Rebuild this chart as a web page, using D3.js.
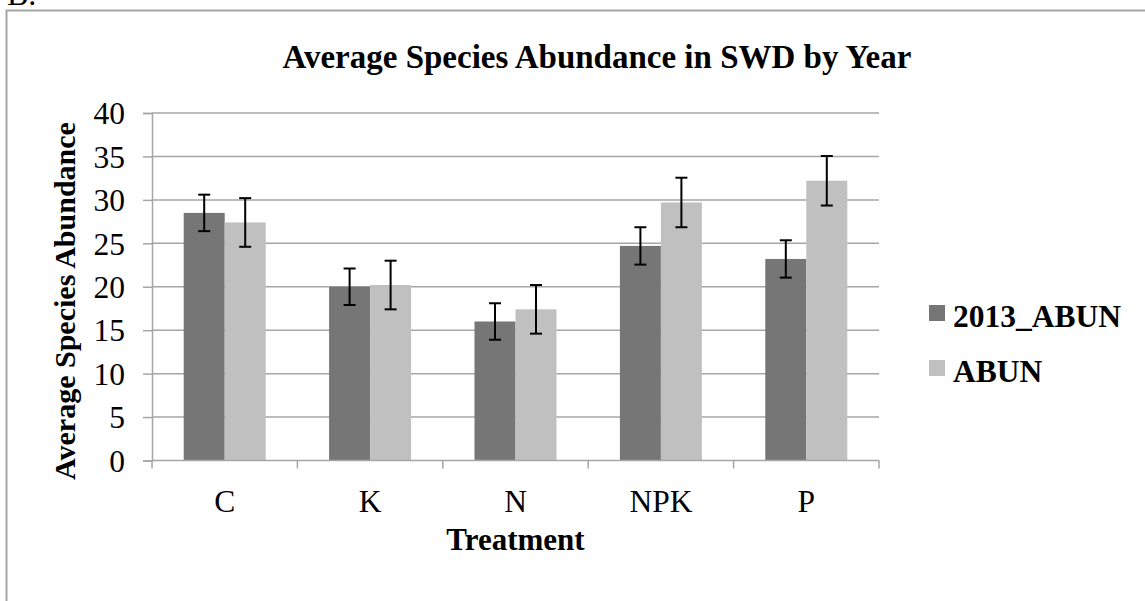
<!DOCTYPE html>
<html>
<head>
<meta charset="utf-8">
<script src="https://cdn.jsdelivr.net/npm/d3@7"></script>
<style>
  html, body { margin: 0; padding: 0; background: #fff; }
  svg { display: block; font-family: "Liberation Serif", "Times New Roman", serif; }
</style>
</head>
<body>
<svg id="chart" width="1145" height="601"></svg>
<script>
const categories = ["C", "K", "N", "NPK", "P"];
const seriesNames = ["2013_ABUN", "ABUN"];
const abun2013 = [28.5, 20.0, 16.0, 24.7, 23.2];
const abun2013Err = [2.1, 2.1, 2.1, 2.15, 2.15];
const abun = [27.4, 20.2, 17.4, 29.7, 32.2];
const abunErr = [2.8, 2.8, 2.8, 2.85, 2.85];
const yTicks = [0, 5, 10, 15, 20, 25, 30, 35, 40];
const colors = ["#767676", "#c0c0c0"];

const seriesValues = [abun2013, abun];
const seriesErrors = [abun2013Err, abunErr];

const svg = d3.select("#chart");

// outer frame
svg.append("rect").attr("x", 6.5).attr("y", 10.5).attr("width", 1300).attr("height", 800)
  .attr("fill", "none").attr("stroke", "#a6a6a6").attr("stroke-width", 2);

svg.append("text").attr("x", 7).attr("y", 5).attr("font-size", 32).text("B.");

const pLeft = 152, pRight = 879, pTop = 113, pBottom = 460.5;

const x = d3.scaleBand().domain(categories).range([pLeft, pRight]).padding(0);
const barW = 41;
const xs = d3.scaleBand().domain(seriesNames)
  .range([0, x.bandwidth()])
  .paddingInner(0)
  .paddingOuter((x.bandwidth() - 2 * barW) / (2 * barW));
const y = d3.scaleLinear().domain([0, 40]).range([pBottom, pTop]);

// gridlines
svg.append("g").selectAll("line").data(yTicks.filter(d => d > 0)).join("line")
  .attr("x1", pLeft).attr("x2", pRight)
  .attr("y1", d => y(d)).attr("y2", d => y(d))
  .attr("stroke", "#a6a6a6").attr("stroke-width", 1.5);

// y axis
const yAxis = d3.axisLeft(y).tickValues(yTicks).tickSize(9).tickPadding(18).tickFormat(d3.format("d"));
const gy = svg.append("g").attr("transform", `translate(${pLeft},0)`).call(yAxis);
gy.select(".domain").attr("stroke", "#a6a6a6").attr("stroke-width", 1.5);
gy.selectAll(".tick line").attr("stroke", "#a6a6a6").attr("stroke-width", 1.5);
gy.selectAll(".tick text").attr("font-size", 31.5).attr("font-family", "Liberation Serif").attr("fill", "#000").attr("dy", "0.34em");

// bars
seriesNames.forEach((s, si) => {
  svg.append("g").selectAll("rect").data(categories).join("rect")
    .attr("x", c => x(c) + xs(s))
    .attr("width", xs.bandwidth())
    .attr("y", (c, i) => y(seriesValues[si][i]))
    .attr("height", (c, i) => y(0) - y(seriesValues[si][i]))
    .attr("fill", colors[si]);
});

// x axis
const xTickPos = categories.map(c => x(c)).concat([pRight]);
const gx = svg.append("g");
gx.append("line").attr("x1", pLeft).attr("x2", pRight).attr("y1", pBottom).attr("y2", pBottom)
  .attr("stroke", "#a6a6a6").attr("stroke-width", 1.5);
gx.selectAll("line.tk").data(xTickPos).join("line").attr("class", "tk")
  .attr("x1", d => d).attr("x2", d => d).attr("y1", pBottom).attr("y2", pBottom + 8)
  .attr("stroke", "#a6a6a6").attr("stroke-width", 1.5);
gx.selectAll("text").data(categories).join("text")
  .attr("x", c => x(c) + x.bandwidth() / 2).attr("y", 512)
  .attr("text-anchor", "middle").attr("font-size", 31.5).text(c => c);

// error bars
seriesNames.forEach((s, si) => {
  const g = svg.append("g").attr("stroke", "#000").attr("stroke-width", 2);
  categories.forEach((c, i) => {
    const cx = x(c) + xs(s) + xs.bandwidth() / 2;
    const v = seriesValues[si][i], e = seriesErrors[si][i];
    g.append("line").attr("x1", cx).attr("x2", cx).attr("y1", y(v + e)).attr("y2", y(v - e));
    g.append("line").attr("x1", cx - 6).attr("x2", cx + 6).attr("y1", y(v + e)).attr("y2", y(v + e));
    g.append("line").attr("x1", cx - 6).attr("x2", cx + 6).attr("y1", y(v - e)).attr("y2", y(v - e));
  });
});

// titles
svg.append("text").attr("x", 597).attr("y", 67.5).attr("text-anchor", "middle")
  .attr("font-size", 33).attr("font-weight", "bold").text("Average Species Abundance in SWD by Year");
svg.append("text").attr("x", (pLeft + pRight) / 2).attr("y", 550).attr("text-anchor", "middle")
  .attr("font-size", 31).attr("font-weight", "bold").text("Treatment");
svg.append("text").attr("transform", "translate(75,301) rotate(-90)").attr("text-anchor", "middle")
  .attr("font-size", 30).attr("font-weight", "bold").text("Average Species Abundance");

// legend
const lg = svg.append("g");
seriesNames.forEach((s, si) => {
  const by = 327 + si * 55;
  lg.append("rect").attr("x", 929).attr("y", by - 22).attr("width", 16).attr("height", 16).attr("fill", colors[si]);
  lg.append("text").attr("x", 953).attr("y", by).attr("font-size", 31.5).attr("font-weight", "bold").text(s);
});
</script>
</body>
</html>
